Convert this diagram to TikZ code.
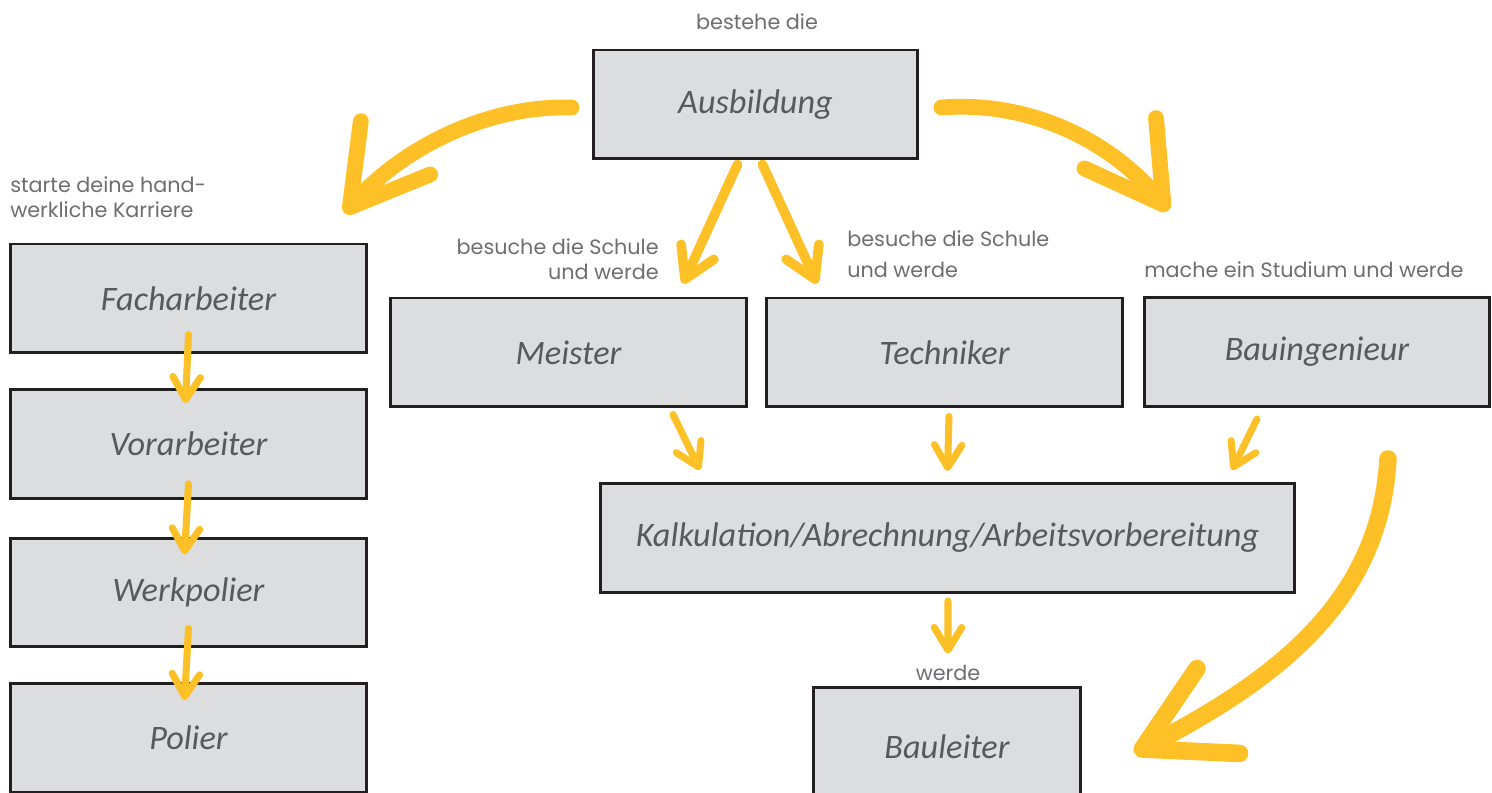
\documentclass[tikz,border=0pt]{standalone}
\usepackage{fontspec}
\usetikzlibrary{arrows.meta,calc,bending}
\newfontfamily\notefont{Poppins}
\newfontfamily\handfont{Carlito}
\definecolor{boxgray}{HTML}{DCDDDF}
\definecolor{boxline}{HTML}{231F20}
\definecolor{labelgray}{HTML}{58595B}
\definecolor{notegray}{HTML}{6D6E71}
\definecolor{brush}{HTML}{FDC127}
\tikzset{
  stage/.style={draw=boxline, line width=1.7pt, fill=boxgray, minimum height=2.18cm,
    inner sep=0pt, text=labelgray, font=\handfont\itshape\fontsize{19.5}{22}\selectfont},
  note/.style={text=notegray, inner sep=0pt, font=\notefont\fontsize{11.8}{14.2}\selectfont},
  brushbig/.style={draw=brush, line width=9pt, line cap=round, line join=round,
    -{Straight Barb[length=1.5cm, width=1.75cm, round]}},
  brushmid/.style={draw=brush, line width=5.5pt, line cap=round, line join=round,
    -{Straight Barb[length=0.6cm, width=0.72cm, round]}},
  brushsmall/.style={draw=brush, line width=4pt, line cap=round, line join=round,
    -{Straight Barb[length=0.45cm, width=0.55cm, round]}}
}
\begin{document}
\begin{tikzpicture}[x=0.02cm, y=-0.02cm]
\useasboundingbox (0,0) rectangle (1492,793);
% boxes
\node[stage, minimum width=6.5cm] (ausb) at (755.5,104.5) {Ausbildung};
\node[stage, minimum width=7.14cm] (fach) at (188.5,298.5) {Facharbeiter};
\node[stage, minimum width=7.14cm] (vor) at (188.5,444) {Vorarbeiter};
\node[stage, minimum width=7.14cm] (werk) at (188.5,592.5) {Werkpolier};
\node[stage, minimum width=7.14cm] (pol) at (188.5,738) {Polier};
\node[stage, minimum width=7.14cm] (meis) at (568.5,352.5) {Meister};
\node[stage, minimum width=7.14cm] (tech) at (944.5,352.5) {Techniker};
\node[stage, minimum width=6.92cm] (ing) at (1317,352) {Bauingenieur};
\node[stage, minimum width=13.9cm] (kalk) at (947.5,538) {Kalkulation/Abrechnung/Arbeitsvorbereitung};
\node[stage, minimum width=5.36cm, minimum height=2.32cm, text depth=0pt] (baul) at (947,745) {\raisebox{-2pt}{Bauleiter}};
% notes
\node[note] (n1) at (757,22) {bestehe die};
\node[note, anchor=west, align=left] (n2) at (10,197.5) {starte deine hand-\\werkliche Karriere};
\node[note, anchor=east, align=right] (n3) at (659,259.5) {besuche die Schule\\und werde};
\node[note, anchor=west, align=left, font=\notefont\fontsize{11.8}{17.6}\selectfont] (n4) at (847,254.5) {besuche die Schule\\und werde};
\node[note, anchor=west] (n5) at (1144,270) {mache ein Studium und werde};
\node[note] (n6) at (948,673) {werde};
% brush arrows
\draw[brushbig] ($(ausb.west)+(-20,3)$) .. controls (480,105) and (390,155) .. ($(fach.north)+(156.5,-29)$);
\draw[brushbig] ($(ausb.east)+(22,3)$) .. controls (1040,100) and (1125,150) .. ($(ing.north)+(-149,-85)$);
\draw[brushmid] ($(ausb.south)+(-18,4)$) -- ($(meis.north)+(114.5,-13)$);
\draw[brushmid] ($(ausb.south)+(7,4)$) -- ($(tech.north)+(-127.5,-13)$);
\draw[brushsmall] ($(meis.south)+(104.5,6)$) -- ($(kalk.north)+(-247.5,-12)$);
\draw[brushsmall] ($(tech.south)+(4.5,8)$) -- ($(kalk.north)+(0,-11)$);
\draw[brushsmall] ($(ing.south)+(-60,11)$) -- ($(kalk.north)+(284.5,-12)$);
\draw[brushsmall] ($(kalk.south)+(0.5,7)$) -- ($(baul.north)+(1,-32)$);
\draw[brushsmall] ($(fach.south)+(0,-20)$) -- ($(vor.north)+(-3,15)$);
\draw[brushsmall] ($(vor.south)+(0,-16)$) -- ($(werk.north)+(-4,18)$);
\draw[brushsmall] ($(werk.south)+(0,-20)$) -- ($(pol.north)+(-4,18)$);
\draw[brushbig, line width=10pt, -{Straight Barb[length=1.7cm, width=1.9cm, round]}]
  ($(ing.south)+(71,51)$) .. controls (1380,600) and (1280,680) .. ($(baul.east)+(52,8)$);
\end{tikzpicture}
\end{document}
